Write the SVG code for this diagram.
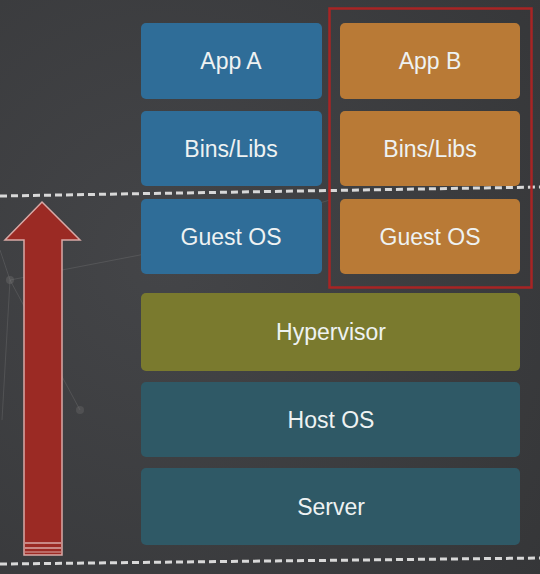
<svg xmlns="http://www.w3.org/2000/svg" width="540" height="574" viewBox="0 0 540 574">
<defs>
<radialGradient id="bg" cx="0.3" cy="0.45" r="0.9">
<stop offset="0" stop-color="#444548"/>
<stop offset="1" stop-color="#353638"/>
</radialGradient>
<style>
.box{stroke:none}
.blue{fill:#2f6d98}
.orange{fill:#b97a36}
.olive{fill:#7a7a2e}
.teal{fill:#2f5966}
.lbl{font-family:"Liberation Sans",Arial,sans-serif;font-size:23px;fill:#eef2f2;text-anchor:middle}
.dash{stroke:#d8d8d8;stroke-width:3;stroke-dasharray:7 4;fill:none}
.net{stroke:#8a8a8a;stroke-width:1;opacity:0.25;fill:none}
</style>
</defs>
<rect x="0" y="0" width="540" height="574" fill="url(#bg)"/>
<g id="background-net">
<line class="net" x1="10" y1="280" x2="140" y2="255"/>
<line class="net" x1="140" y1="255" x2="330" y2="200"/>
<line class="net" x1="10" y1="280" x2="80" y2="410"/>
<line class="net" x1="10" y1="280" x2="2" y2="420"/>
<line class="net" x1="0" y1="250" x2="10" y2="280"/>
<circle cx="10" cy="280" r="4" fill="#777" opacity="0.35"/>
<circle cx="80" cy="410" r="4" fill="#777" opacity="0.3"/>
</g>
<g id="connectors">
<line class="dash" x1="0" y1="196" x2="540" y2="187"/>
<line class="dash" x1="0" y1="564" x2="540" y2="558"/>
</g>
<g id="app-a"><rect class="box blue" x="141" y="23" width="181" height="76" rx="5"/><text class="lbl" x="231" y="69">App A</text></g>
<g id="bins-a"><rect class="box blue" x="141" y="111" width="181" height="75" rx="5"/><text class="lbl" x="231" y="157">Bins/Libs</text></g>
<g id="guest-a"><rect class="box blue" x="141" y="199" width="181" height="75" rx="5"/><text class="lbl" x="231" y="245">Guest OS</text></g>
<g id="app-b"><rect class="box orange" x="340" y="23" width="180" height="76" rx="5"/><text class="lbl" x="430" y="69">App B</text></g>
<g id="bins-b"><rect class="box orange" x="340" y="111" width="180" height="75" rx="5"/><text class="lbl" x="430" y="157">Bins/Libs</text></g>
<g id="guest-b"><rect class="box orange" x="340" y="199" width="180" height="75" rx="5"/><text class="lbl" x="430" y="245">Guest OS</text></g>
<g id="vm-b-frame"><rect x="329.5" y="8.5" width="202" height="279" fill="none" stroke="#a82424" stroke-width="2.5"/></g>
<g id="hypervisor"><rect class="box olive" x="141" y="293" width="379" height="78" rx="5"/><text class="lbl" x="331" y="340">Hypervisor</text></g>
<g id="host-os"><rect class="box teal" x="141" y="382" width="379" height="75" rx="5"/><text class="lbl" x="331" y="428">Host OS</text></g>
<g id="server"><rect class="box teal" x="141" y="468" width="379" height="77" rx="5"/><text class="lbl" x="331" y="515">Server</text></g>
<g id="arrow">
<polygon points="42,202 80,240 62,240 62,555 24,555 24,240 5,240" fill="#9b2a24" stroke="#d9a9a6" stroke-width="1.5" stroke-linejoin="miter"/>
<line x1="25" y1="543" x2="61" y2="543" stroke="#d9a9a6" stroke-width="1.5"/>
<line x1="25" y1="548" x2="61" y2="548" stroke="#d9a9a6" stroke-width="1.5"/>
<line x1="25" y1="552" x2="61" y2="552" stroke="#d9a9a6" stroke-width="1"/>
</g>
</svg>
